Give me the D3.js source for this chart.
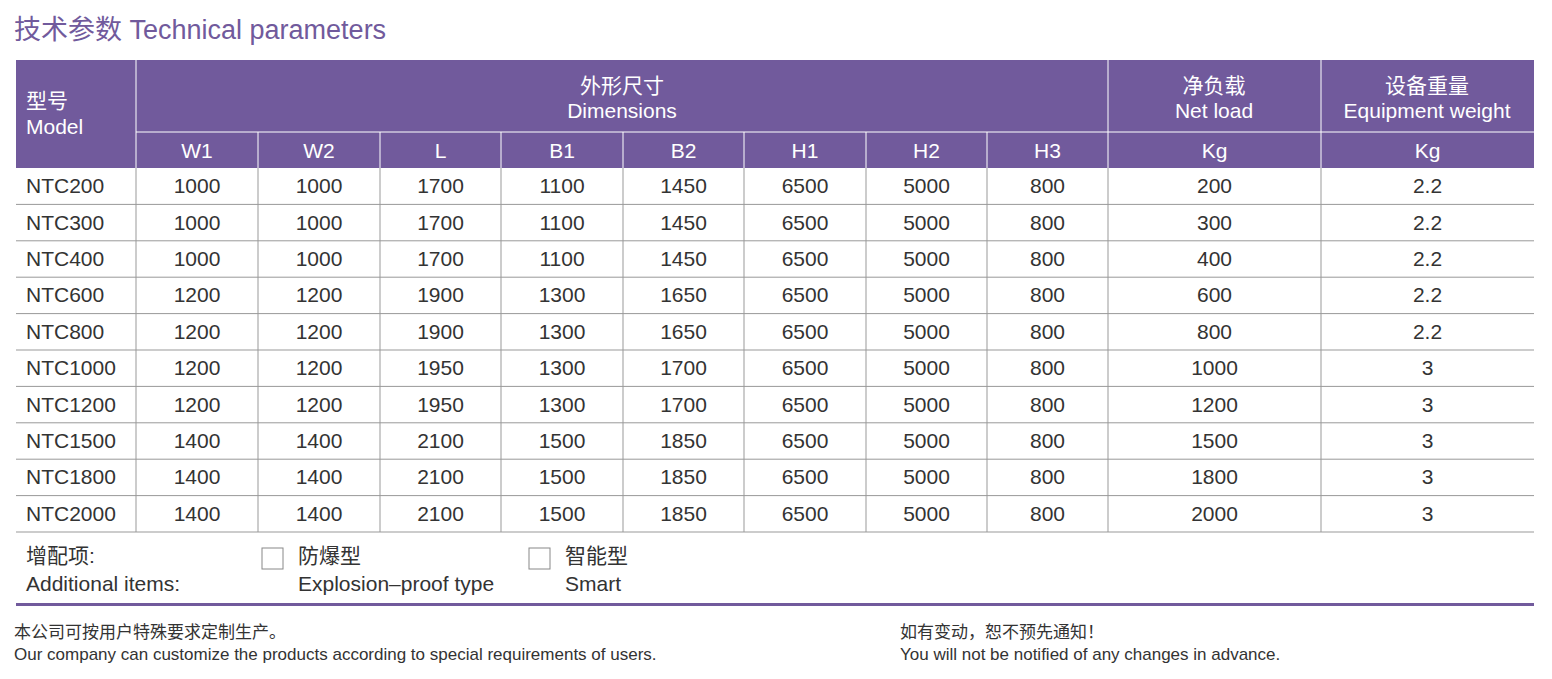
<!DOCTYPE html>
<html><head><meta charset="utf-8">
<script src="https://cdn.jsdelivr.net/npm/d3@7"></script>
<style>body{margin:0;background:#fff}svg{display:block}text{font-family:"Liberation Sans","Noto Sans CJK SC",sans-serif}</style>
</head><body><svg id="c" width="1552" height="679"></svg>
<script>
// table data
var models = ['NTC200','NTC300','NTC400','NTC600','NTC800','NTC1000','NTC1200','NTC1500','NTC1800','NTC2000'];
var dimKeys = ['W1','W2','L','B1','B2','H1','H2','H3'];
var W1 = [1000,1000,1000,1200,1200,1200,1200,1400,1400,1400];
var W2 = [1000,1000,1000,1200,1200,1200,1200,1400,1400,1400];
var L  = [1700,1700,1700,1900,1900,1950,1950,2100,2100,2100];
var B1 = [1100,1100,1100,1300,1300,1300,1300,1500,1500,1500];
var B2 = [1450,1450,1450,1650,1650,1700,1700,1850,1850,1850];
var H1 = [6500,6500,6500,6500,6500,6500,6500,6500,6500,6500];
var H2 = [5000,5000,5000,5000,5000,5000,5000,5000,5000,5000];
var H3 = [800,800,800,800,800,800,800,800,800,800];
var netLoad = [200,300,400,600,800,1000,1200,1500,1800,2000];
var weight = ['2.2','2.2','2.2','2.2','2.2','3','3','3','3','3'];

var purple = '#715a9c', ink = '#333', grid = '#999';
var svg = d3.select('#c');
var edges = [16,136,258,380,501,623,744,866,987,1108,1321,1534];
var cols = [models, W1, W2, L, B1, B2, H1, H2, H3, netLoad, weight];
var y = d3.scaleBand().domain(models).range([168, 532]);

svg.append('text').attr('x', 14).attr('y', 39).attr('font-size', 27).attr('fill', purple)
  .text('技术参数 Technical parameters');

// header
svg.append('rect').attr('x', 16).attr('y', 60).attr('width', 1518).attr('height', 108).attr('fill', purple);
var hw = svg.append('g').attr('stroke', '#fff').attr('stroke-width', 1);
hw.append('line').attr('x1', 136).attr('x2', 1534).attr('y1', 132).attr('y2', 132);
[136, 1108, 1321].forEach(function(x){ hw.append('line').attr('x1', x).attr('x2', x).attr('y1', 60).attr('y2', 168); });
edges.slice(2, 9).forEach(function(x){ hw.append('line').attr('x1', x).attr('x2', x).attr('y1', 132).attr('y2', 168); });

function htext(x, yy, t, anchor, size){
  svg.append('text').attr('x', x).attr('y', yy).attr('text-anchor', anchor || 'middle')
    .attr('font-size', size || 21).attr('fill', '#fff').text(t);
}
htext(26, 108, '型号', 'start'); htext(26, 134, 'Model', 'start');
htext(622, 93, '外形尺寸'); htext(622, 118, 'Dimensions');
htext(1214, 93, '净负载'); htext(1214, 118, 'Net load');
htext(1427, 93, '设备重量'); htext(1427, 118, 'Equipment weight');
var subHead = dimKeys.concat(['Kg', 'Kg']);
subHead.forEach(function(t, i){ htext((edges[i+1] + edges[i+2]) / 2, 158, t); });

// body
var g = svg.append('g');
models.forEach(function(m, r){
  var yy = y(m);
  g.append('line').attr('x1', 16).attr('x2', 1534).attr('y1', yy + y.bandwidth()).attr('y2', yy + y.bandwidth())
    .attr('stroke', grid).attr('stroke-width', 1);
  cols.forEach(function(col, c){
    g.append('text').attr('x', c === 0 ? 26 : (edges[c] + edges[c+1]) / 2)
      .attr('y', yy + y.bandwidth() / 2 + 7).attr('text-anchor', c === 0 ? 'start' : 'middle')
      .attr('font-size', 21).attr('fill', ink).text(col[r]);
  });
});
edges.slice(1, 11).forEach(function(x){
  g.append('line').attr('x1', x).attr('x2', x).attr('y1', 168).attr('y2', 532).attr('stroke', grid);
});

// additional items
function t(x, yy, s, size){ svg.append('text').attr('x', x).attr('y', yy).attr('font-size', size || 21).attr('fill', ink).text(s); }
t(26, 563, '增配项:'); t(26, 591, 'Additional items:');
svg.append('rect').attr('x', 262).attr('y', 548).attr('width', 21).attr('height', 21).attr('fill', 'none').attr('stroke', '#888');
t(298, 563, '防爆型'); t(298, 591, 'Explosion–proof type');
svg.append('rect').attr('x', 529).attr('y', 548).attr('width', 21).attr('height', 21).attr('fill', 'none').attr('stroke', '#888');
t(565, 563, '智能型'); t(565, 591, 'Smart');
svg.append('rect').attr('x', 16).attr('y', 603).attr('width', 1518).attr('height', 3).attr('fill', purple);

t(14, 638, '本公司可按用户特殊要求定制生产。', 17);
t(14, 660, 'Our company can customize the products according to special requirements of users.', 17);
t(900, 638, '如有变动，恕不预先通知！', 17);
t(900, 660, 'You will not be notified of any changes in advance.', 17);
</script></body></html>
